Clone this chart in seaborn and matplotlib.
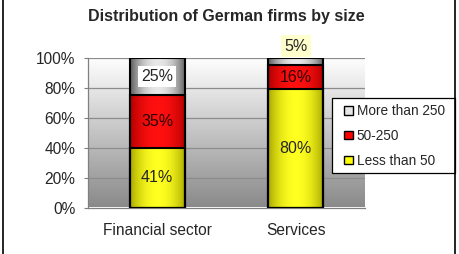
import numpy as np
import pandas as pd
import matplotlib
matplotlib.use("Agg")
import matplotlib.pyplot as plt
import seaborn as sns
from matplotlib.colors import LinearSegmentedColormap
from matplotlib.patches import Patch, Rectangle
from matplotlib.lines import Line2D

# data
categories = ["Financial sector", "Services"]
less_than_50 = [40, 79]
mid_50_250 = [35, 16]
more_than_250 = [25, 5]
lbl_less = ["41%", "80%"]
lbl_mid = ["35%", "16%"]
lbl_more = ["25%", "5%"]
yticks = [0, 20, 40, 60, 80, 100]

sns.set_style("white")
plt.rcParams["font.family"] = ["Liberation Sans", "DejaVu Sans"]

fig = plt.figure(figsize=(4.6, 2.54), dpi=100)
ax = fig.add_axes([88 / 460, 1 - 207.5 / 254, 277 / 460, 149.5 / 254])

# background gradient (white at top -> grey at bottom)
bg = LinearSegmentedColormap.from_list("bg", ["#8a8a8a", "#ffffff"])
ax.imshow(np.linspace(0, 1, 256).reshape(-1, 1), cmap=bg, aspect="auto",
          extent=[-0.5, 1.5, 0, 100], origin="lower", zorder=0)
for t in yticks[1:]:
    ax.axhline(t, color="#8c8c8c", lw=0.9, zorder=1)

# stacked bars: draw cumulative totals, tallest first
df = pd.DataFrame({
    "cat": categories,
    "total": np.array(less_than_50) + np.array(mid_50_250) + np.array(more_than_250),
    "mid_top": np.array(less_than_50) + np.array(mid_50_250),
    "low_top": less_than_50,
})
layers = [
    ("total", ["#5a5a5a", "#e8e8e8", "#5a5a5a"]),
    ("mid_top", ["#b00000", "#ff1010", "#b00000"]),
    ("low_top", ["#a8a800", "#ffff20", "#a8a800"]),
]
grad = 1 - np.abs(np.linspace(-1, 1, 200)) ** 2
for i, (col, cols) in enumerate(layers):
    n0 = len(ax.patches)
    sns.barplot(data=df, x="cat", y=col, order=categories, color=cols[1],
                width=0.4, edgecolor="black", linewidth=1.5, ax=ax)
    cm = LinearSegmentedColormap.from_list("g%d" % i, [cols[0], cols[1]])
    for p in ax.patches[n0:]:
        x0, y0, w, h = p.get_x(), p.get_y(), p.get_width(), p.get_height()
        im = ax.imshow(grad.reshape(1, -1), cmap=cm, aspect="auto",
                       extent=[x0, x0 + w, y0, y0 + h], zorder=2 + i)
        im.set_clip_path(p)
        p.set_facecolor("none")
        p.set_zorder(10)

ax.set_xlim(-0.5, 1.5)
ax.set_ylim(0, 100)

# data labels
fs_lab = 11.5
for j in range(2):
    ax.text(j, less_than_50[j] / 2, lbl_less[j], ha="center", va="center",
            fontsize=fs_lab, zorder=12)
    ax.text(j, less_than_50[j] + mid_50_250[j] / 2, lbl_mid[j], ha="center",
            va="center", fontsize=fs_lab, color="#2a0000", zorder=12)
ax.text(0, less_than_50[0] + mid_50_250[0] + more_than_250[0] / 2, lbl_more[0],
        ha="center", va="center", fontsize=fs_lab, zorder=12,
        bbox=dict(boxstyle="square,pad=0.2", fc="white", ec="none"))
ax.text(1, 108, lbl_more[1], ha="center", va="center", fontsize=fs_lab, zorder=12,
        clip_on=False, bbox=dict(boxstyle="square,pad=0.2", fc="#ffffcc", ec="none"))

# axes styling
ax.set_yticks(yticks)
ax.set_yticklabels(["%d%%" % t for t in yticks], fontsize=11.2)
ax.set_xticks([0, 1])
ax.set_xticklabels(categories, fontsize=11.2)
ax.set_xticks([-0.5, 0.5, 1.5], minor=True)
ax.tick_params(axis="x", which="major", length=0, pad=11)
ax.tick_params(axis="x", which="minor", length=3.5, color="#808080", direction="out")
ax.tick_params(axis="y", length=3, color="#808080", direction="out", left=True, pad=6)
ax.set_xlabel("")
ax.set_ylabel("")
for s in ["top", "right"]:
    ax.spines[s].set_visible(False)
for s in ["left", "bottom"]:
    ax.spines[s].set_color("#808080")
    ax.spines[s].set_linewidth(0.9)

fig.text(226.5 / 460, 1 - 16 / 254, "Distribution of German firms by size",
         ha="center", va="center", fontsize=11.5, fontweight="bold")

# legend: frame drawn separately, entries placed inside it
fig.add_artist(Rectangle((332 / 460, 1 - 173 / 254), 123 / 460, 75 / 254,
                         transform=fig.transFigure, fc="white", ec="black",
                         lw=0.9, zorder=20))
handles = [
    Patch(facecolor="#e6e6e6", edgecolor="black", label="More than 250"),
    Patch(facecolor="#ff0000", edgecolor="black", label="50-250"),
    Patch(facecolor="#ffff00", edgecolor="black", label="Less than 50"),
]
leg = fig.legend(handles=handles, loc="upper left",
                 bbox_to_anchor=(344.5 / 460, 1 - 104 / 254), fontsize=9.8,
                 frameon=False, handlelength=0.6, handleheight=0.6,
                 handletextpad=0.3, labelspacing=0.8, borderpad=0,
                 borderaxespad=0)
leg.set_zorder(21)

# chart area border (left and right edges)
fig.add_artist(Line2D([3.5 / 460, 3.5 / 460], [0, 1], color="black", lw=1.2))
fig.add_artist(Line2D([455.5 / 460, 455.5 / 460], [0, 1], color="black", lw=1.2,
                      zorder=22))

fig.savefig("out.png", dpi=100)
